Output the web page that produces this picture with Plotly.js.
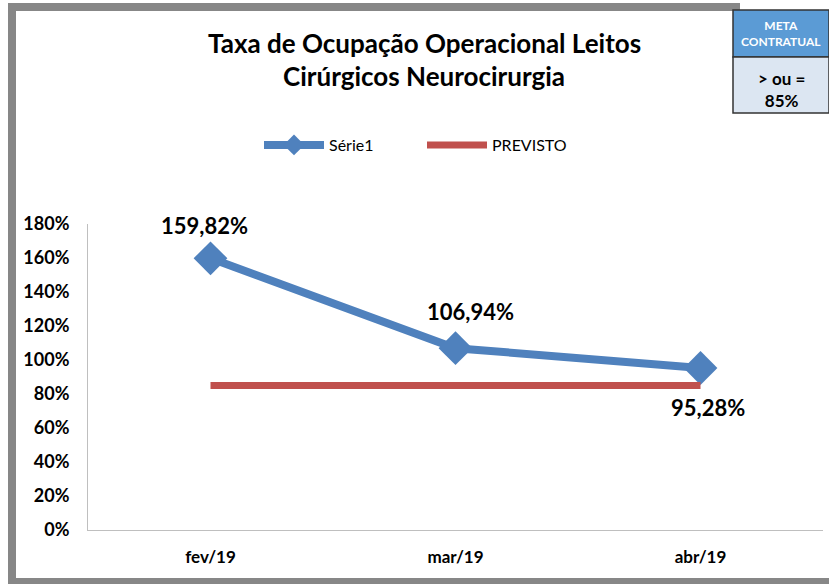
<!DOCTYPE html>
<html>
<head>
<meta charset="utf-8">
<script src="https://cdn.plot.ly/plotly-3.0.1.min.js"></script>
<style>
  html, body { margin: 0; padding: 0; background: #fff; }
  #chart { width: 829px; height: 584px; }
</style>
</head>
<body>
<div id="chart"></div>
<script>
// chart data
const months = ["fev/19", "mar/19", "abr/19"];
const serie1 = [1.5982, 1.0694, 0.9528];
const previsto = [0.85, 0.85, 0.85];
const serieLabels = ["159,82%", "106,94%", "95,28%"];
const yTicks = [0, 0.2, 0.4, 0.6, 0.8, 1.0, 1.2, 1.4, 1.6, 1.8];
const yTickText = ["0%", "20%", "40%", "60%", "80%", "100%", "120%", "140%", "160%", "180%"];

const FONT = "Lato, 'Open Sans', sans-serif";

// plot area in pixels
const M = { l: 88, r: 6, t: 224, b: 54 };
const W = 829, H = 584;
const pw = W - M.l - M.r, ph = H - M.t - M.b;
const px = (x) => (x - M.l) / pw;
const py = (y) => (H - M.b - y) / ph;

const traces = [
  {
    x: months,
    y: serie1,
    name: "Série1",
    type: "scatter",
    mode: "lines+markers",
    line: { color: "#4F81BD", width: 8 },
    marker: { symbol: "diamond", size: 26, color: "#4F81BD" },
    cliponaxis: false,
  },
  {
    x: months,
    y: previsto,
    name: "PREVISTO",
    type: "scatter",
    mode: "lines",
    line: { color: "#C0504D", width: 7 },
  },
];

// data labels
const labelShift = [[-6, 33], [15, 37], [7, -39]];
const annotations = serieLabels.map((t, i) => ({
  x: months[i], y: serie1[i], xref: "x", yref: "y",
  xanchor: "center", yanchor: "middle",
  text: t, showarrow: false,
  xshift: labelShift[i][0], yshift: labelShift[i][1],
  font: { family: FONT, size: 22, color: "#000", weight: "bold" },
}));

const note = (x, y, text, size, color) => ({
  xref: "paper", yref: "paper", x: px(x), y: py(y),
  xanchor: "center", yanchor: "middle",
  text: text, showarrow: false,
  font: { family: FONT, size: size, color: color, weight: "bold" },
});

annotations.push(
  note(424, 43, "Taxa de Ocupação Operacional Leitos", 26, "#000"),
  note(424, 76, "Cirúrgicos Neurocirurgia", 26, "#000"),
  note(781, 33, "META<br>CONTRATUAL", 12, "#fff"),
  note(781, 89, "&gt; ou =<br>85%", 17, "#000")
);

const grey = "#878787";
const rect = (x0, x1, y0, y1, fill, line) => ({
  type: "rect", xref: "paper", yref: "paper", layer: "below",
  x0: px(x0), x1: px(x1), y0: py(y0), y1: py(y1),
  fillcolor: fill, line: line || { width: 0 },
});
const shapes = [
  // outer frame
  rect(8, 16, 3, 584, grey),
  rect(8, 740, 3, 11, grey),
  rect(8, 829, 578, 584, grey),
  // meta box
  rect(733, 829, 10, 57, "#5B9BD5", { color: "#333", width: 1.5 }),
  rect(733, 829, 57, 113, "#DCE6F2", { color: "#333", width: 1.5 }),
];

const layout = {
  width: W,
  height: H,
  margin: M,
  paper_bgcolor: "#fff",
  plot_bgcolor: "#fff",
  font: { family: FONT, color: "#000" },
  showlegend: true,
  legend: {
    orientation: "h",
    x: px(422), xanchor: "center",
    y: py(145), yanchor: "middle",
    font: { family: FONT, size: 16, color: "#000" },
    itemwidth: 60,
    entrywidth: 88,
  },
  xaxis: {
    type: "category",
    range: [-0.5, 2.5],
    showgrid: false,
    showline: true,
    linecolor: "#BFBFBF",
    linewidth: 1,
    ticks: "",
    tickfont: { family: FONT, size: 17, color: "#000", weight: "bold" },
    ticklabelstandoff: 12,
    fixedrange: true,
  },
  yaxis: {
    range: [0, 1.8],
    tickvals: yTicks,
    ticktext: yTickText,
    showgrid: false,
    zeroline: false,
    showline: true,
    linecolor: "#BFBFBF",
    linewidth: 1,
    ticks: "",
    tickfont: { family: FONT, size: 18, color: "#000", weight: "bold" },
    ticklabelstandoff: 14,
    fixedrange: true,
  },
  annotations: annotations,
  shapes: shapes,
};

Plotly.newPlot("chart", traces, layout, { displayModeBar: false, staticPlot: true });
</script>
</body>
</html>
